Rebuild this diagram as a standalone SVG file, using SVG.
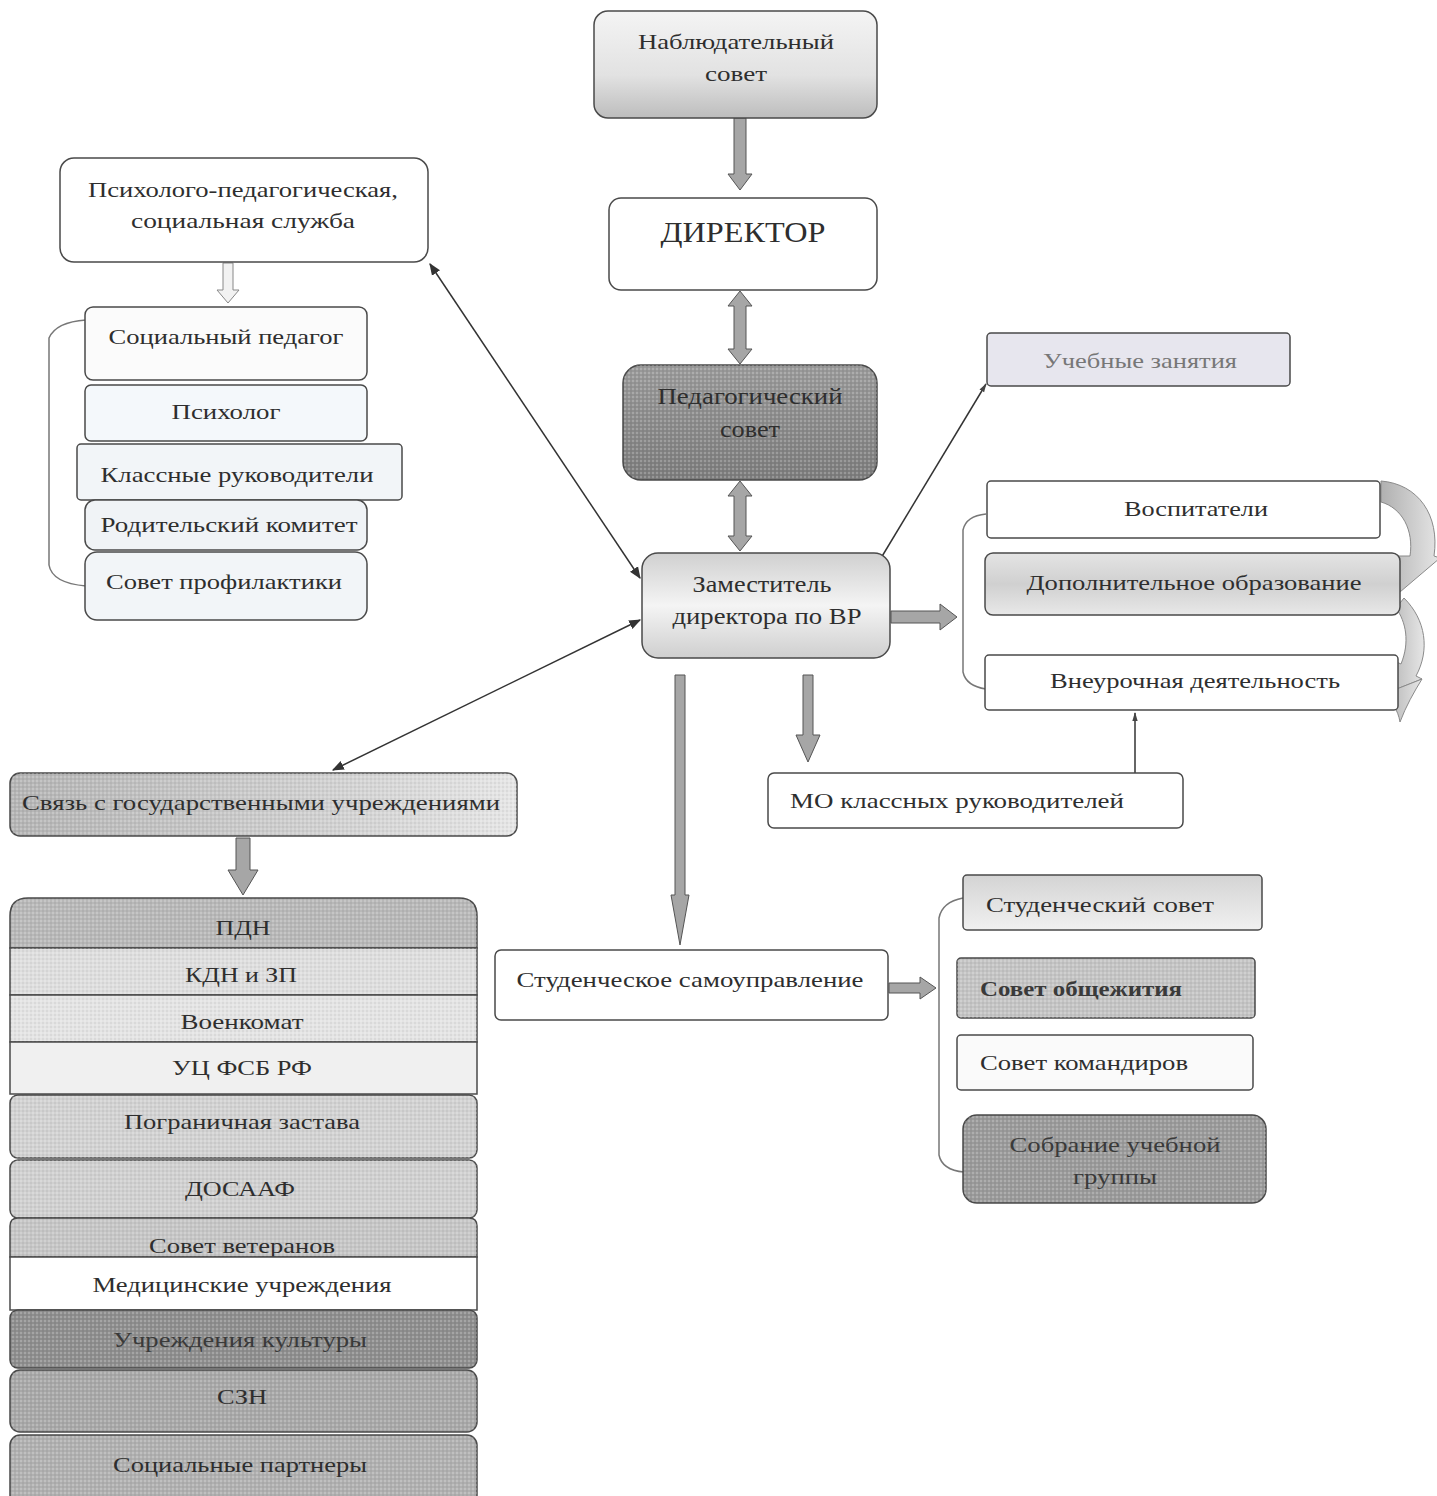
<svg xmlns="http://www.w3.org/2000/svg" width="1437" height="1496" viewBox="0 0 1437 1496">
<defs>
<style>
.box{stroke:#4a4a4a;stroke-width:1.5}
.t{font-family:"Liberation Serif","Times New Roman",serif;font-size:22px;fill:#2e2e2e;text-anchor:middle}
.thin{stroke:#333;stroke-width:1.5;fill:none}
.brk{stroke:#777;stroke-width:1.5;fill:none}
.blk{fill:#a6a6a6;stroke:#555;stroke-width:1}
.hol{fill:#f2f2f2;stroke:#888;stroke-width:1}
.cyc{fill:url(#gCyc);stroke:#8a8a8a;stroke-width:1}
</style>
<linearGradient id="gNab" x1="0" y1="0" x2="0" y2="1"><stop offset="0" stop-color="#f4f4f4"/><stop offset="0.6" stop-color="#e2e2e2"/><stop offset="1" stop-color="#bdbdbd"/></linearGradient>
<linearGradient id="gPed" x1="0" y1="0" x2="0" y2="1"><stop offset="0" stop-color="#9a9a9a"/><stop offset="1" stop-color="#7c7c7c"/></linearGradient>
<linearGradient id="gZam" x1="0" y1="0" x2="0" y2="1"><stop offset="0" stop-color="#d0d0d0"/><stop offset="0.5" stop-color="#f4f4f4"/><stop offset="1" stop-color="#cfcfcf"/></linearGradient>
<linearGradient id="gSv" x1="0" y1="0" x2="1" y2="0"><stop offset="0" stop-color="#b4b4b4"/><stop offset="0.7" stop-color="#d4d4d4"/><stop offset="1" stop-color="#e6e6e6"/></linearGradient>
<linearGradient id="gDop" x1="0" y1="0" x2="0" y2="1"><stop offset="0" stop-color="#e4e4e4"/><stop offset="0.5" stop-color="#d0d0d0"/><stop offset="1" stop-color="#e8e8e8"/></linearGradient>
<linearGradient id="gStud" x1="0" y1="0" x2="0" y2="1"><stop offset="0" stop-color="#d4d4d4"/><stop offset="1" stop-color="#f0f0f0"/></linearGradient>
<linearGradient id="gCyc" x1="0" y1="0" x2="1" y2="0"><stop offset="0" stop-color="#b0b0b0"/><stop offset="1" stop-color="#e6e6e6"/></linearGradient>
<pattern id="dots" width="4" height="4" patternUnits="userSpaceOnUse"><rect width="4" height="4" fill="none"/><circle cx="1" cy="1" r="0.8" fill="#ffffff" fill-opacity="0.45"/><circle cx="3" cy="3" r="0.7" fill="#000000" fill-opacity="0.12"/></pattern>
<marker id="ah" viewBox="0 0 10 10" refX="9" refY="5" markerWidth="8" markerHeight="8" orient="auto-start-reverse"><path d="M0,1 L10,5 L0,9 z" fill="#333"/></marker>
<marker id="ahs" viewBox="0 0 10 10" refX="9" refY="5" markerWidth="6" markerHeight="6" orient="auto-start-reverse"><path d="M0,2 L10,5 L0,8 z" fill="#444"/></marker>
</defs>
<rect width="1437" height="1496" fill="#ffffff"/>

<g id="connectors">
<path class="blk" d="M734,118 H746 V174 H752 L740,190 L728,174 H734 Z"/>
<path class="blk" d="M740,291 L752,306 H746 V349 H752 L740,364 L728,349 H734 V306 H728 Z"/>
<path class="blk" d="M740,481 L752,496 H746 V536 H752 L740,551 L728,536 H734 V496 H728 Z"/>
<path class="hol" d="M223,263 H233 V290 H239 L228,303 L217,290 H223 Z"/>
<path class="blk" d="M891,611 H940 V604 L957,617 L940,630 V623 H891 Z"/>
<path class="blk" d="M675,675 H685 V895 H689 L680,945 L671,895 H675 Z"/>
<path class="blk" d="M803,675 H813 V735 H820 L808,762 L796,735 H803 Z"/>
<path class="blk" d="M236,838 H250 V870 H258 L243,895 L228,870 H236 Z"/>
<path class="blk" d="M889,983 H920 V977 L936,988 L920,999 V993 H889 Z"/>
<line class="thin" x1="430" y1="264" x2="640" y2="578" marker-start="url(#ah)" marker-end="url(#ah)"/>
<line class="thin" x1="640" y1="620" x2="333" y2="770" marker-start="url(#ah)" marker-end="url(#ah)"/>
<line class="thin" x1="878" y1="563" x2="986" y2="384" marker-end="url(#ahs)"/>
<line class="thin" x1="1135" y1="773" x2="1135" y2="713" marker-end="url(#ahs)"/>
<path class="brk" d="M86,320 Q56,322 49,338 V565 Q52,583 86,586"/>
<path class="brk" d="M986,514 Q966,516 963,530 V672 Q966,686 986,689"/>
<path class="brk" d="M963,898 Q942,902 939,918 V1155 Q942,1170 964,1172"/>
<path class="cyc" d="M1381,481 C1418,484 1440,515 1434,556 L1440,558 L1400,592 L1396,556 L1410,556 C1414,530 1402,508 1381,502 Z"/>
<path class="cyc" d="M1404,598 C1426,620 1430,650 1416,676 L1422,679 L1384,694 L1392,660 L1401,664 C1410,642 1406,622 1396,608 Z"/>
<path class="cyc" d="M1384,694 C1392,702 1398,710 1400,722 C1406,706 1414,692 1422,679 Z"/>
</g>

<g id="n-nab">
<rect class="box" x="594" y="11" width="283" height="107" rx="14" fill="url(#gNab)"/>
<text class="t" x="736" y="49" textLength="196" lengthAdjust="spacingAndGlyphs">Наблюдательный</text>
<text class="t" x="736" y="81" textLength="62" lengthAdjust="spacingAndGlyphs">совет</text>
</g>
<g id="n-dir">
<rect class="box" x="609" y="198" width="268" height="92" rx="12" fill="#ffffff"/>
<text class="t" x="743" y="242" style="font-size:30px" textLength="165" lengthAdjust="spacingAndGlyphs">ДИРЕКТОР</text>
</g>
<g id="n-ped">
<rect class="box" x="623" y="365" width="254" height="115" rx="18" fill="url(#gPed)"/>
<rect x="623" y="365" width="254" height="115" rx="18" fill="url(#dots)"/>
<text class="t" x="750" y="404" style="font-size:24px" textLength="185" lengthAdjust="spacingAndGlyphs">Педагогический</text>
<text class="t" x="750" y="437" style="font-size:24px" textLength="60" lengthAdjust="spacingAndGlyphs">совет</text>
</g>
<g id="n-zam">
<rect class="box" x="642" y="553" width="248" height="105" rx="16" fill="url(#gZam)"/>
<text class="t" x="762" y="592" style="font-size:24px" textLength="139" lengthAdjust="spacingAndGlyphs">Заместитель</text>
<text class="t" x="767" y="624" style="font-size:24px" textLength="189" lengthAdjust="spacingAndGlyphs">директора по ВР</text>
</g>

<g id="n-psy">
<rect class="box" x="60" y="158" width="368" height="104" rx="14" fill="#ffffff"/>
<text class="t" x="243" y="197" textLength="310" lengthAdjust="spacingAndGlyphs">Психолого-педагогическая,</text>
<text class="t" x="243" y="228" textLength="224" lengthAdjust="spacingAndGlyphs">социальная  служба</text>
</g>
<g id="n-socped">
<rect class="box" x="85" y="307" width="282" height="73" rx="8" fill="#fbfbfb"/>
<text class="t" x="226" y="344" textLength="235" lengthAdjust="spacingAndGlyphs">Социальный педагог</text>
</g>
<g id="n-psiholog">
<rect class="box" x="85" y="385" width="282" height="56" rx="6" fill="#f4f8fb"/>
<text class="t" x="226" y="419" textLength="109" lengthAdjust="spacingAndGlyphs">Психолог</text>
</g>
<g id="n-klruk">
<rect class="box" x="77" y="444" width="325" height="56" rx="4" fill="#f2f5f8"/>
<text class="t" x="237" y="482" textLength="273" lengthAdjust="spacingAndGlyphs">Классные руководители</text>
</g>
<g id="n-rodkom">
<rect class="box" x="85" y="500" width="282" height="50" rx="10" fill="#f0f3f6"/>
<text class="t" x="229" y="532" textLength="257" lengthAdjust="spacingAndGlyphs">Родительский комитет</text>
</g>
<g id="n-sovprof">
<rect class="box" x="85" y="552" width="282" height="68" rx="12" fill="#f2f5f8"/>
<text class="t" x="224" y="589" textLength="236" lengthAdjust="spacingAndGlyphs">Совет профилактики</text>
</g>

<g id="n-ucheb">
<rect class="box" x="987" y="333" width="303" height="53" rx="4" fill="#e7e6ee"/>
<text class="t" x="1140" y="368" style="fill:#777" textLength="194" lengthAdjust="spacingAndGlyphs">Учебные занятия</text>
</g>
<g id="n-vosp">
<rect class="box" x="987" y="481" width="393" height="57" rx="4" fill="#ffffff"/>
<text class="t" x="1196" y="516" textLength="144" lengthAdjust="spacingAndGlyphs">Воспитатели</text>
</g>
<g id="n-dop">
<rect class="box" x="985" y="553" width="415" height="62" rx="8" fill="url(#gDop)"/>
<text class="t" x="1194" y="590" textLength="335" lengthAdjust="spacingAndGlyphs">Дополнительное образование</text>
</g>
<g id="n-vneur">
<rect class="box" x="985" y="655" width="413" height="55" rx="4" fill="#ffffff"/>
<text class="t" x="1195" y="688" textLength="290" lengthAdjust="spacingAndGlyphs">Внеурочная деятельность</text>
</g>
<g id="n-mo">
<rect class="box" x="768" y="773" width="415" height="55" rx="6" fill="#ffffff"/>
<text class="t" x="957" y="808" textLength="334" lengthAdjust="spacingAndGlyphs">МО классных руководителей</text>
</g>

<g id="n-svyaz">
<rect class="box" x="10" y="773" width="507" height="63" rx="10" fill="url(#gSv)"/>
<rect x="10" y="773" width="507" height="63" rx="10" fill="url(#dots)"/>
<text class="t" x="261" y="810" textLength="478" lengthAdjust="spacingAndGlyphs">Связь с государственными учреждениями</text>
</g>

<g id="n-pdn">
<path class="box" d="M10,948 V916 Q10,898 28,898 H459 Q477,898 477,916 V948 Z" fill="#b8b8b8"/>
<path d="M10,948 V916 Q10,898 28,898 H459 Q477,898 477,916 V948 Z" fill="url(#dots)"/>
<text class="t" x="243" y="935" textLength="55" lengthAdjust="spacingAndGlyphs">ПДН</text>
</g>
<g id="n-kdn">
<rect class="box" x="10" y="948" width="467" height="47" fill="#dedede"/>
<rect x="10" y="948" width="467" height="47" fill="url(#dots)"/>
<text class="t" x="241" y="982" textLength="112" lengthAdjust="spacingAndGlyphs">КДН и ЗП</text>
</g>
<g id="n-voenk">
<rect class="box" x="10" y="995" width="467" height="47" fill="#e4e4e4"/>
<rect x="10" y="995" width="467" height="47" fill="url(#dots)"/>
<text class="t" x="242" y="1029" textLength="123" lengthAdjust="spacingAndGlyphs">Военкомат</text>
</g>
<g id="n-uc">
<rect class="box" x="10" y="1042" width="467" height="52" fill="#f0f0f0"/>
<text class="t" x="242" y="1075" textLength="140" lengthAdjust="spacingAndGlyphs">УЦ ФСБ РФ</text>
</g>
<g id="n-pogr">
<rect class="box" x="10" y="1095" width="467" height="63" rx="8" fill="#d2d2d2"/>
<rect x="10" y="1095" width="467" height="63" rx="8" fill="url(#dots)"/>
<text class="t" x="242" y="1129" textLength="236" lengthAdjust="spacingAndGlyphs">Пограничная застава</text>
</g>
<g id="n-dosaaf">
<rect class="box" x="10" y="1160" width="467" height="58" rx="8" fill="#d0d0d0"/>
<rect x="10" y="1160" width="467" height="58" rx="8" fill="url(#dots)"/>
<text class="t" x="240" y="1196" textLength="110" lengthAdjust="spacingAndGlyphs">ДОСААФ</text>
</g>
<g id="n-vet">
<path class="box" d="M10,1257 V1226 Q10,1218 18,1218 H469 Q477,1218 477,1226 V1257 Z" fill="#c6c6c6"/>
<path d="M10,1257 V1226 Q10,1218 18,1218 H469 Q477,1218 477,1226 V1257 Z" fill="url(#dots)"/>
<text class="t" x="242" y="1253" textLength="186" lengthAdjust="spacingAndGlyphs">Совет ветеранов</text>
</g>
<g id="n-med">
<rect class="box" x="10" y="1257" width="467" height="53" fill="#ffffff"/>
<text class="t" x="242" y="1292" textLength="299" lengthAdjust="spacingAndGlyphs">Медицинские учреждения</text>
</g>
<g id="n-kult">
<rect class="box" x="10" y="1310" width="467" height="58" rx="8" fill="#8e8e8e"/>
<rect x="10" y="1310" width="467" height="58" rx="8" fill="url(#dots)"/>
<text class="t" x="240" y="1347" style="fill:#3a3a3a" textLength="254" lengthAdjust="spacingAndGlyphs">Учреждения  культуры</text>
</g>
<g id="n-szn">
<rect class="box" x="10" y="1370" width="467" height="62" rx="10" fill="#a8a8a8"/>
<rect x="10" y="1370" width="467" height="62" rx="10" fill="url(#dots)"/>
<text class="t" x="242" y="1404" textLength="50" lengthAdjust="spacingAndGlyphs">СЗН</text>
</g>
<g id="n-socpart">
<rect class="box" x="10" y="1435" width="467" height="70" rx="10" fill="#b0b0b0"/>
<rect x="10" y="1435" width="467" height="70" rx="10" fill="url(#dots)"/>
<text class="t" x="240" y="1472" textLength="254" lengthAdjust="spacingAndGlyphs">Социальные партнеры</text>
</g>

<g id="n-studsam">
<rect class="box" x="495" y="950" width="393" height="70" rx="6" fill="#ffffff"/>
<text class="t" x="690" y="987" textLength="347" lengthAdjust="spacingAndGlyphs">Студенческое самоуправление</text>
</g>
<g id="n-studsov">
<rect class="box" x="963" y="875" width="299" height="55" rx="4" fill="url(#gStud)"/>
<text class="t" x="1100" y="912" textLength="228" lengthAdjust="spacingAndGlyphs">Студенческий совет</text>
</g>
<g id="n-obsh">
<rect class="box" x="957" y="958" width="298" height="60" rx="4" fill="#c4c4c4"/>
<rect x="957" y="958" width="298" height="60" rx="4" fill="url(#dots)"/>
<text class="t" x="1081" y="996" style="font-weight:bold;fill:#3a3a3a" textLength="202" lengthAdjust="spacingAndGlyphs">Совет общежития</text>
</g>
<g id="n-komand">
<rect class="box" x="957" y="1035" width="296" height="55" rx="4" fill="#fafafa"/>
<text class="t" x="1084" y="1070" textLength="208" lengthAdjust="spacingAndGlyphs">Совет командиров</text>
</g>
<g id="n-sobr">
<rect class="box" x="963" y="1115" width="303" height="88" rx="14" fill="#9a9a9a"/>
<rect x="963" y="1115" width="303" height="88" rx="14" fill="url(#dots)"/>
<text class="t" x="1115" y="1152" style="fill:#3a3a3a" textLength="211" lengthAdjust="spacingAndGlyphs">Собрание учебной</text>
<text class="t" x="1115" y="1184" style="fill:#3a3a3a" textLength="84" lengthAdjust="spacingAndGlyphs">группы</text>
</g>
</svg>
